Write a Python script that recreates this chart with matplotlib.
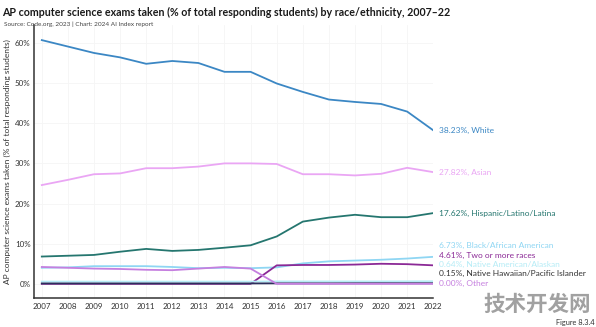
import matplotlib.pyplot as plt

plt.rcParams['font.family'] = ['Lato', 'Noto Sans CJK SC', 'DejaVu Sans']

# data (percent of responding students)
years = list(range(2007, 2023))
white = [60.7, 59.1, 57.5, 56.4, 54.8, 55.5, 55.0, 52.8, 52.8, 49.9, 47.8, 45.9, 45.3, 44.8, 42.9, 38.23]
asian = [24.6, 25.9, 27.3, 27.5, 28.8, 28.8, 29.2, 30.0, 30.0, 29.85, 27.3, 27.3, 27.0, 27.4, 28.9, 27.82]
hispanic = [6.8, 7.0, 7.2, 8.0, 8.7, 8.2, 8.45, 9.0, 9.6, 11.8, 15.5, 16.5, 17.2, 16.6, 16.6, 17.62]
black = [4.0, 4.1, 4.4, 4.4, 4.4, 4.2, 3.9, 4.0, 3.9, 4.1, 5.1, 5.6, 5.8, 6.0, 6.3, 6.73]
two_more = [0, 0, 0, 0, 0, 0, 0, 0, 0, 4.6, 4.7, 4.7, 4.8, 5.0, 4.9, 4.61]
native_am = [0.55, 0.55, 0.55, 0.55, 0.55, 0.55, 0.55, 0.55, 0.55, 0.6, 0.6, 0.6, 0.6, 0.6, 0.62, 0.64]
native_hw = [0.1, 0.1, 0.1, 0.1, 0.1, 0.1, 0.1, 0.1, 0.1, 0.12, 0.12, 0.12, 0.14, 0.15, 0.15, 0.15]
other = [4.2, 4.0, 3.8, 3.7, 3.5, 3.4, 3.8, 4.2, 3.8, 0, 0, 0, 0, 0, 0, 0.0]

# name, values, colour, vertical nudge of the end label (points)
series = [
    ('White', white, '#3b87c4', 0),
    ('Asian', asian, '#eaa6f4', 0),
    ('Hispanic/Latino/Latina', hispanic, '#25766f', 0),
    ('Black/African American', black, '#8fd6f3', 8),
    ('Two or more races', two_more, '#8b2996', 7),
    ('Native American/Alaskan', native_am, '#b5ecf6', 11.8),
    ('Native Hawaiian/Pacific Islander', native_hw, '#2d2f5c', 6.8),
    ('Other', other, '#c57fdf', 0),
]
label_colors = {'Native Hawaiian/Pacific Islander': '#333333'}

fig = plt.figure(figsize=(5.96, 3.27), dpi=100)
ax = fig.add_axes([0.057, 0.089, 0.670, 0.835])

for name, vals, col, off in series:
    ax.plot(years, vals, color=col, lw=1.3, solid_joinstyle='round')
    ax.annotate(f'{vals[-1]:.2f}%, {name}', xy=(years[-1], vals[-1]),
                xytext=(4, off), textcoords='offset points',
                va='center', ha='left', fontsize=6.0,
                color=label_colors.get(name, col), annotation_clip=False)

ax.set_xlim(2006.7, 2022)
ax.set_ylim(-3.5, 64.5)
ax.set_xticks(years)
ax.set_xticklabels([str(y) for y in years], fontsize=5.8, color='#333333')
ax.set_yticks(range(0, 61, 10))
ax.set_yticklabels([f'{v}%' for v in range(0, 61, 10)], fontsize=5.8, color='#333333')
ax.tick_params(axis='y', length=0, pad=2.5)
ax.tick_params(axis='x', length=0, pad=4)
ax.set_ylabel('AP computer science exams taken (% of total responding students)',
              fontsize=6.0, color='#333333')
ax.yaxis.set_label_coords(-0.058, 0.5)
ax.grid(True, color='#f5f5f5', lw=0.6)
ax.set_axisbelow(True)
for s in ['top', 'right']:
    ax.spines[s].set_visible(False)
for s in ['left', 'bottom']:
    ax.spines[s].set_color('#333333')
    ax.spines[s].set_linewidth(1.1)

fig.text(0.004, 0.978, 'AP computer science exams taken (% of total responding students) by race/ethnicity, 2007–22',
         fontsize=7.7, fontweight='bold', color='#1a1a1a', va='top', ha='left')
fig.text(0.006, 0.935, 'Source: Code.org, 2023 | Chart: 2024 AI Index report',
         fontsize=4.6, color='#444444', va='top', ha='left')
fig.text(0.998, 0.004, 'Figure 8.3.4', fontsize=5.3, color='#333333', ha='right', va='bottom')
fig.text(0.901, 0.036, '技术开发网', fontsize=15.5, fontweight='bold', color='#8a8a8a',
         ha='center', va='bottom', family=['Noto Sans CJK SC', 'DejaVu Sans'], alpha=0.8)

fig.savefig('out.png', dpi=100)
